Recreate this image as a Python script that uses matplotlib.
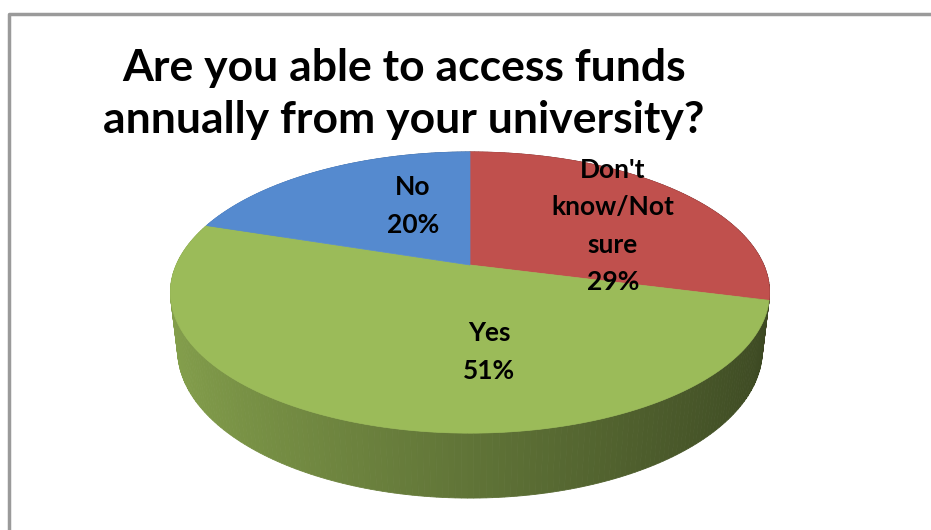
import numpy as np
import matplotlib.pyplot as plt
from matplotlib.patches import Polygon

# survey answers, clockwise from 12 o'clock
labels = ["Don't\nknow/Not\nsure", "Yes", "No"]
values = [29, 51, 20]
colors = ["#C0504D", "#9BBB59", "#558ACF"]
title = "Are you able to access funds\nannually from your university?"

# camera / layout (pixels)
cx, cy = 470, 265
fx, fy = 1325, 1299
elev = np.radians(28)
dist = 4.51
thick = 0.227

def project(X, Y, Z):
    s, c = np.sin(elev), np.cos(elev)
    v = Y * s + Z * c
    w = Y * c - Z * s
    return cx + fx * X / (dist + w), cy - fy * v / (dist + w)

def rim(a0, a1, z=0.0, n=200):
    t = np.radians(np.linspace(a0, a1, n))
    return project(np.sin(t), np.cos(t), np.full_like(t, z))

def shade(col, k):
    r, g, b = [int(col[i:i + 2], 16) / 255 for i in (1, 3, 5)]
    return (r * k, g * k, b * k)

fig = plt.figure(figsize=(9.31, 5.30), dpi=100)
ax = fig.add_axes([0, 0, 1, 1])
ax.set_xlim(0, 931)
ax.set_ylim(530, 0)
ax.axis("off")

# chart border (left and top edges visible)
ax.plot([8.5, 8.5, 931], [530, 13.5, 13.5], color="#9a9a9a", lw=2.5)

# slice angle ranges
bounds = np.concatenate([[0], np.cumsum(values)]) / sum(values) * 360

# side wall, drawn far to near
step = 1.0
segs = []
for i in range(len(values)):
    a = bounds[i]
    while a < bounds[i + 1] - 1e-9:
        b = min(a + step, bounds[i + 1])
        segs.append((a, b, colors[i]))
        a = b
segs.sort(key=lambda s: -np.cos(np.radians((s[0] + s[1]) / 2)))
for a, b, col in segs:
    xt, yt = rim(a, b, 0, 3)
    xb, yb = rim(a, b, -thick, 3)
    xm = np.sin(np.radians((a + b) / 2))
    k = 0.62 - 0.24 * xm
    pts = np.column_stack([np.r_[xt, xb[::-1]], np.r_[yt, yb[::-1]]])
    ax.add_patch(Polygon(pts, closed=True, fc=shade(col, k), ec=shade(col, k), lw=0.6))

# top face
ox, oy = project(0, 0, 0)
for i in range(len(values)):
    xs, ys = rim(bounds[i], bounds[i + 1])
    pts = np.column_stack([np.r_[ox, xs], np.r_[oy, ys]])
    ax.add_patch(Polygon(pts, closed=True, fc=colors[i], ec=colors[i], lw=0.5))

# data labels
font = ["Lato", "DejaVu Sans"]
label_pos = [(613, 226), (489, 352), (413, 206)]
for lab, v, (lx, ly) in zip(labels, values, label_pos):
    ax.text(lx, ly, f"{lab}\n{v}%", ha="center", va="center", fontsize=19,
            fontweight="bold", family=font, linespacing=1.68)

ax.text(404, 94, title, ha="center", va="center", fontsize=32,
        fontweight="bold", family=font, linespacing=1.35)

fig.savefig("out.png", dpi=100)
